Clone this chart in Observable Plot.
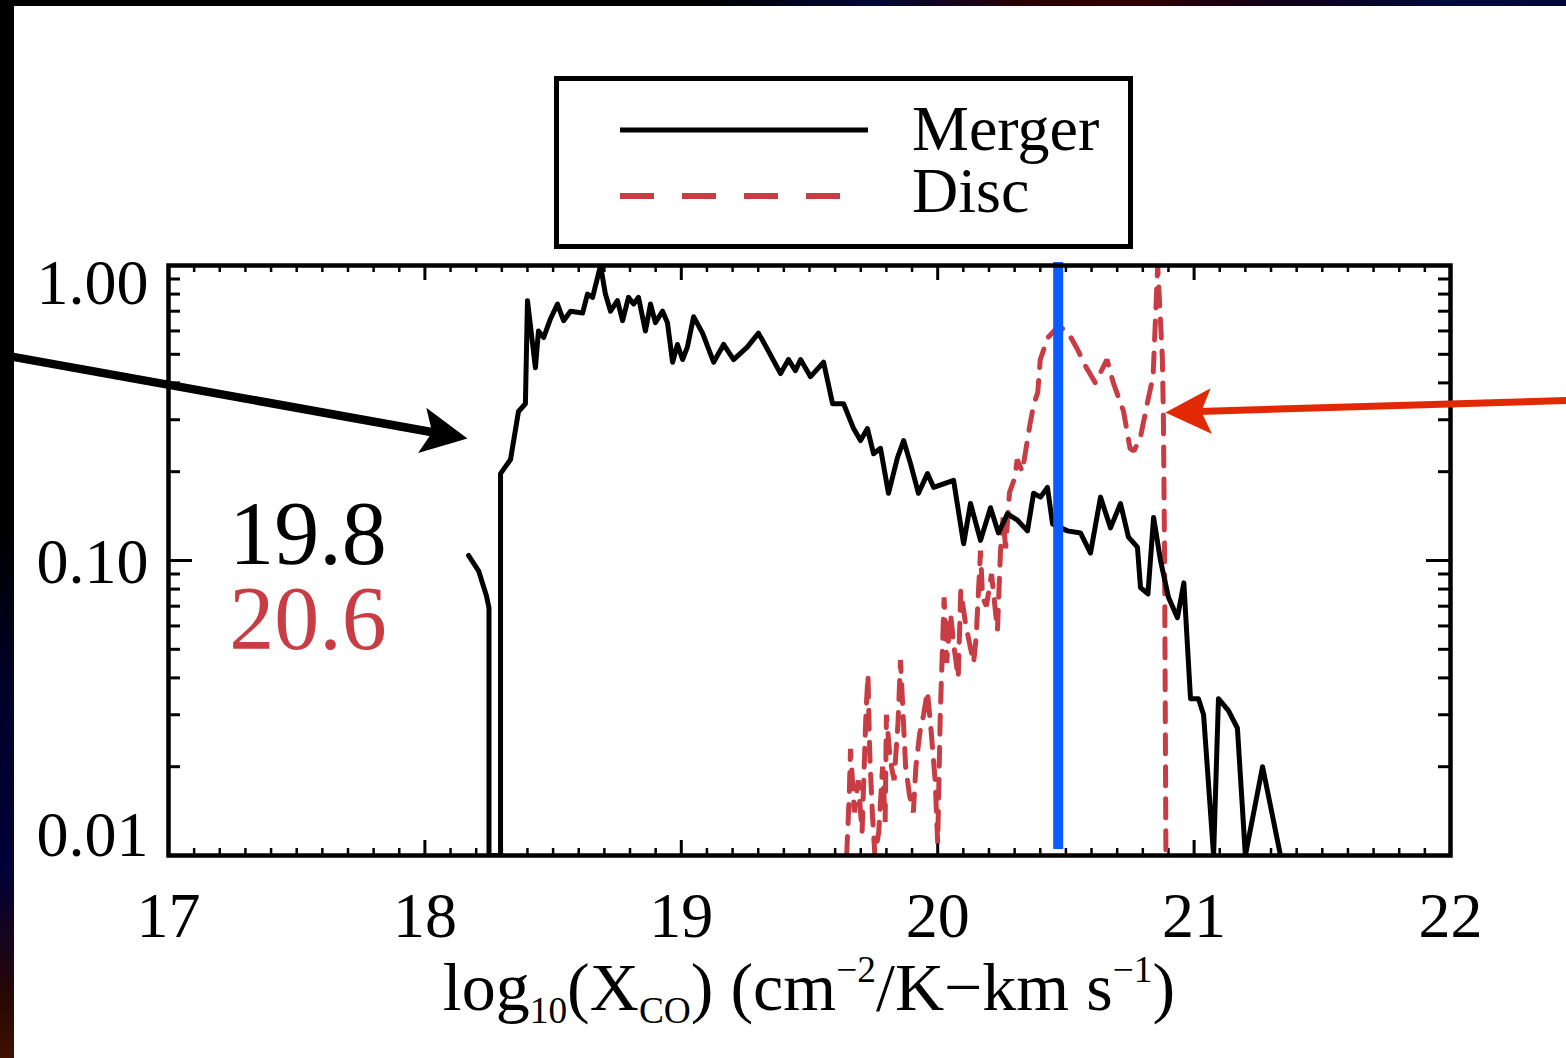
<!DOCTYPE html>
<html>
<head>
<meta charset="utf-8">
<script src="https://cdn.jsdelivr.net/npm/d3@7"></script>
<script src="https://cdn.jsdelivr.net/npm/@observablehq/plot@0.6"></script>
<style>
  html, body { margin: 0; padding: 0; }
  body { width: 1566px; height: 1058px; position: relative; overflow: hidden; background: #000;
         font-family: "Liberation Serif", "DejaVu Serif", serif; }
  #bandTop { position: absolute; left: 0; top: 0; width: 1566px; height: 6px;
    background: linear-gradient(to right, #000 0%, #000 45%, #000838 56%, #2a0000 66%, #300000 72%, #100018 82%, #000a3a 92%, #000838 100%); }
  #bandLeft { position: absolute; left: 0; top: 0; width: 14px; height: 1058px;
    background: linear-gradient(to bottom, #000 0%, #000 50%, #000028 65%, #00003a 82%, #2a0800 95%, #401000 100%); }
  #panel { position: absolute; left: 14px; top: 6px; width: 1552px; height: 1052px; background: #fff; }
  #chart { position: absolute; left: 0; top: 0; }
  #legend { position: absolute; left: 554px; top: 76px; }
  #xtitle { position: absolute; left: 0; width: 1618px; top: 953px; text-align: center;
            font-size: 68px; line-height: 68px; color: #000; white-space: nowrap; }
  #xtitle sub { font-size: 0.55em; vertical-align: -0.35em; line-height: 0; }
  #xtitle sup { font-size: 0.55em; vertical-align: 0.75em; line-height: 0; }
</style>
</head>
<body>
<div id="bandTop"></div>
<div id="bandLeft"></div>
<div id="panel"></div>
<div id="chart"></div>
<div id="legend"></div>
<div id="xtitle">log<sub>10</sub>(X<sub>CO</sub>) (cm<sup>−2</sup>/K−km s<sup>−1</sup>)</div>
<script>
// ---------- data ----------
const mergerX = [18.17,18.21,18.24,18.25,18.25,18.295,18.295,18.334,18.365,18.392,18.40,18.431,18.443,18.463,18.49,18.517,18.541,18.568,18.615,18.634,18.654,18.685,18.704,18.724,18.751,18.771,18.794,18.814,18.833,18.860,18.880,18.899,18.927,18.946,18.966,18.985,19.005,19.024,19.048,19.083,19.126,19.165,19.204,19.258,19.301,19.336,19.387,19.418,19.445,19.465,19.504,19.555,19.590,19.633,19.672,19.699,19.726,19.750,19.777,19.808,19.843,19.867,19.894,19.925,19.960,19.984,20.023,20.062,20.101,20.128,20.167,20.206,20.237,20.272,20.311,20.350,20.374,20.401,20.428,20.448,20.506,20.557,20.596,20.635,20.674,20.713,20.744,20.779,20.791,20.82,20.842,20.869,20.90,20.935,20.96,20.986,21.017,21.037,21.076,21.095,21.134,21.169,21.200,21.267,21.337];
const mergerY = [0.104,0.092,0.076,0.069,0.01,0.01,0.197,0.22,0.32,0.34,0.76,0.45,0.60,0.57,0.66,0.74,0.65,0.70,0.69,0.80,0.78,1.0,0.80,0.70,0.76,0.65,0.78,0.74,0.78,0.60,0.74,0.64,0.70,0.64,0.47,0.54,0.48,0.53,0.67,0.59,0.47,0.54,0.48,0.53,0.59,0.52,0.43,0.48,0.44,0.48,0.42,0.47,0.34,0.34,0.28,0.255,0.28,0.23,0.24,0.169,0.223,0.255,0.213,0.169,0.197,0.177,0.182,0.187,0.114,0.156,0.117,0.151,0.124,0.144,0.137,0.126,0.169,0.164,0.177,0.133,0.126,0.124,0.106,0.164,0.129,0.156,0.120,0.111,0.081,0.077,0.14,0.10,0.075,0.064,0.084,0.034,0.034,0.030,0.01,0.034,0.031,0.027,0.01,0.020,0.01];

const discX = [19.645,19.655,19.66,19.675,19.69,19.705,19.72,19.728,19.735,19.745,19.755,19.77,19.785,19.795,19.80,19.815,19.83,19.845,19.855,19.865,19.875,19.89,19.905,19.915,19.93,19.945,19.96,19.975,19.99,20.0,20.01,20.025,20.035,20.05,20.065,20.08,20.09,20.11,20.14,20.15,20.167,20.175,20.19,20.21,20.233,20.245,20.255,20.265,20.28,20.30,20.31,20.33,20.36,20.375,20.39,20.40,20.43,20.47,20.505,20.545,20.58,20.615,20.66,20.685,20.725,20.75,20.765,20.79,20.82,20.84,20.858,20.876,20.88,20.885,20.89];
const discY = [0.01,0.016,0.023,0.014,0.018,0.012,0.03,0.041,0.022,0.014,0.01,0.012,0.02,0.013,0.03,0.021,0.018,0.028,0.046,0.03,0.02,0.016,0.014,0.02,0.026,0.03,0.036,0.026,0.018,0.011,0.03,0.075,0.045,0.066,0.05,0.04,0.079,0.06,0.045,0.055,0.108,0.075,0.07,0.09,0.058,0.108,0.14,0.11,0.17,0.19,0.22,0.2,0.29,0.34,0.37,0.48,0.57,0.62,0.60,0.52,0.45,0.40,0.48,0.40,0.32,0.24,0.235,0.26,0.35,0.42,1.0,0.49,0.32,0.1,0.01];

const seriesNames = ["Merger", "Disc"];
const seriesColors = ["#000000", "#c83c44"];

const xMajorTicks = [17, 18, 19, 20, 21, 22];
const xMinorTicks = d3.range(170, 221).map(v => v / 10).filter(v => !Number.isInteger(v));
const yMajorTicks = [0.01, 0.1, 1];
const yMinorTicks = [0.02,0.03,0.04,0.05,0.06,0.07,0.08,0.09,0.2,0.3,0.4,0.5,0.6,0.7,0.8,0.9];

const markerX = [20.47];            // blue vertical marker
const statLabels = ["19.8", "20.6"];
const statX = [17.544, 17.544];
const statY = [0.1216, 0.0626];

const arrowFromX = [16.345, 22.452];
const arrowFromY = [0.499, 0.3485];
const arrowToX = [18.166, 20.888];
const arrowToY = [0.259, 0.3175];
const arrowColors = ["#000000", "#e12a05"];

// ---------- build tables ----------
const merger = mergerX.map((x, i) => ({x, y: mergerY[i]}));
const disc = discX.map((x, i) => ({x, y: discY[i]}));
const stats = statLabels.map((t, i) => ({t, x: statX[i], y: statY[i], c: seriesColors[i]}));
const arrows = arrowFromX.map((x1, i) => ({
  x1, y1: arrowFromY[i], x2: arrowToX[i], y2: arrowToY[i], c: arrowColors[i],
  sw: i === 0 ? 8.5 : 7, rot: i === 0 ? 100.3 : 268.3
}));

const W = 1566, H = 1058, mL = 168, mR = 116, mT = 265, mB = 203;
const fW = W - mL - mR, fH = H - mT - mB;
const FONT = "Liberation Serif, DejaVu Serif, serif";

const headShape = {
  draw(ctx, l) {
    const w = l * 0.5;
    ctx.moveTo(0, -l);
    ctx.lineTo(w, 0);
    ctx.lineTo(0, -l * 0.22);
    ctx.lineTo(-w, 0);
    ctx.closePath();
  }
};

const chart = Plot.plot({
  width: W, height: H,
  marginLeft: mL, marginRight: mR, marginTop: mT, marginBottom: mB,
  style: {background: "transparent", fontFamily: FONT, color: "#000", overflow: "visible"},
  x: {domain: [17, 22]},
  y: {type: "log", domain: [0.01, 1]},
  marks: [
    // inward minor/major ticks on all four sides
    Plot.ruleX(xMinorTicks, {x: d => d, insetTop: fH - 7, stroke: "#000", strokeWidth: 2.5}),
    Plot.ruleX(xMinorTicks, {x: d => d, insetBottom: fH - 7, stroke: "#000", strokeWidth: 2.5}),
    Plot.ruleX(xMajorTicks, {x: d => d, insetTop: fH - 15, stroke: "#000", strokeWidth: 3}),
    Plot.ruleX(xMajorTicks, {x: d => d, insetBottom: fH - 15, stroke: "#000", strokeWidth: 3}),
    Plot.ruleY(yMinorTicks, {y: d => d, insetRight: fW - 12, stroke: "#000", strokeWidth: 3}),
    Plot.ruleY(yMinorTicks, {y: d => d, insetLeft: fW - 12, stroke: "#000", strokeWidth: 3}),
    Plot.ruleY(yMajorTicks, {y: d => d, insetRight: fW - 24, stroke: "#000", strokeWidth: 3}),
    Plot.ruleY(yMajorTicks, {y: d => d, insetLeft: fW - 24, stroke: "#000", strokeWidth: 3}),
    // series
    Plot.line(disc, {x: "x", y: "y", stroke: seriesColors[1], strokeWidth: 5,
      strokeDasharray: "19,13", strokeLinejoin: "miter", clip: "frame"}),
    Plot.line(merger, {x: "x", y: "y", stroke: seriesColors[0], strokeWidth: 5,
      strokeLinejoin: "round", clip: "frame"}),
    // blue marker line
    Plot.ruleX(markerX, {x: d => d, stroke: "#0a5cff", strokeWidth: 10, insetBottom: 6, insetTop: -3}),
    Plot.frame({stroke: "#000", strokeWidth: 4.5}),
    // axes labels
    Plot.axisX({ticks: xMajorTicks, tickSize: 0, tickPadding: 36, fontSize: 64,
      tickFormat: d => String(d), label: null, fontFamily: FONT}),
    Plot.axisY({ticks: [1], tickSize: 0, tickPadding: 20, fontSize: 64, dy: 18,
      tickFormat: d3.format(".2f"), label: null, fontFamily: FONT}),
    Plot.axisY({ticks: [0.1], tickSize: 0, tickPadding: 20, fontSize: 64, dy: 2,
      tickFormat: d3.format(".2f"), label: null, fontFamily: FONT}),
    Plot.axisY({ticks: [0.01], tickSize: 0, tickPadding: 20, fontSize: 64, dy: -20,
      tickFormat: d3.format(".2f"), label: null, fontFamily: FONT}),
    // summary numbers
    Plot.text(stats, {x: "x", y: "y", text: "t", fill: "c", fontSize: 90,
      fontFamily: FONT, textAnchor: "middle"}),
    // annotation arrows: shaft + filled head
    Plot.arrow(arrows, {x1: "x1", y1: "y1", x2: "x2", y2: "y2", stroke: "c",
      strokeWidth: "sw", headLength: 0, insetEnd: 34, strokeLinecap: "butt"}),
    Plot.vector(arrows, {x: "x2", y: "y2", rotate: "rot", length: 46, anchor: "end",
      shape: headShape, fill: "c", stroke: "none"})
  ]
});
document.getElementById("chart").appendChild(chart);

// ---------- legend ----------
const legend = d3.select("#legend").append("svg")
  .attr("width", 580).attr("height", 174)
  .style("font-family", FONT);
legend.append("rect").attr("x", 2.5).attr("y", 2.5).attr("width", 574).attr("height", 168)
  .attr("fill", "#fff").attr("stroke", "#000").attr("stroke-width", 5);
legend.append("line").attr("x1", 66).attr("x2", 314).attr("y1", 54).attr("y2", 54)
  .attr("stroke", seriesColors[0]).attr("stroke-width", 5);
legend.append("line").attr("x1", 66).attr("x2", 286).attr("y1", 120).attr("y2", 120)
  .attr("stroke", seriesColors[1]).attr("stroke-width", 6).attr("stroke-dasharray", "34,28");
legend.selectAll("text.lab").data(seriesNames).join("text")
  .attr("class", "lab")
  .attr("x", 358).attr("y", (d, i) => i === 0 ? 74 : 136)
  .attr("font-size", 64).attr("fill", "#000")
  .text(d => d);
</script>
</body>
</html>
